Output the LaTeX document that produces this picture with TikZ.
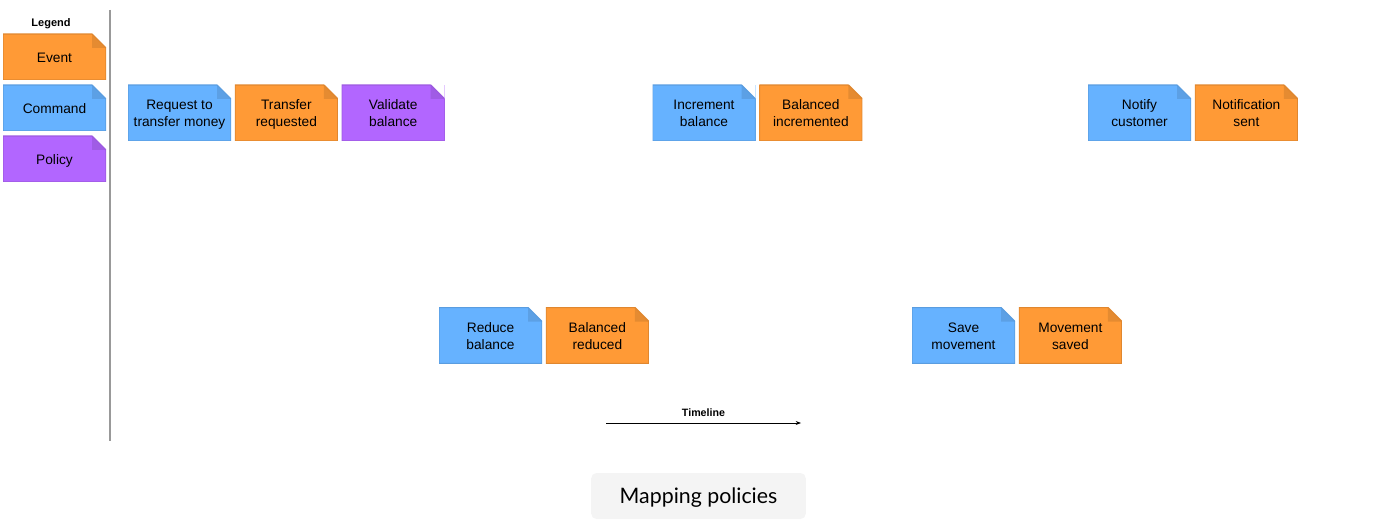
\documentclass[tikz,border=0pt]{standalone}
\usepackage{fontspec}
\setmainfont{Liberation Sans}
\newfontfamily\captionfont{Lato}
\usetikzlibrary{shapes,arrows.meta,positioning}
\definecolor{evt}{RGB}{255,154,54}
\definecolor{cmd}{RGB}{102,178,255}
\definecolor{pol}{RGB}{178,102,255}
\tikzset{
  Note/.style={fill=#1, draw=none, minimum width=77.25pt, minimum height=42pt,
    inner sep=1pt, align=center, font=\fontsize{10.3}{12.75}\selectfont,
    path picture={
      \path (path picture bounding box.north east) coordinate (ne)
            (path picture bounding box.south west) coordinate (sw)
            (ne) ++(-10.5pt,0) coordinate (f1)
            (ne) ++(0,-10.5pt) coordinate (f2);
      \fill[white] (f1) -- (ne) -- (f2) -- cycle;
      \fill[#1!90!black] (f1) -- (f2) -- (f1 |- f2) -- cycle;
      \draw[#1!88!black, line width=1pt] (f1) -| (sw) -| (f2) -- (f1);
    }}
}
\tikzstyle{Sticky}  = [execute at begin node={\rule{0pt}{23pt}},
                       execute at end node={\rule[-2.5pt]{0pt}{2.5pt}}]
\tikzstyle{Event}   = [Note=evt, Sticky]
\tikzstyle{Command} = [Note=cmd, Sticky]
\tikzstyle{Policy}  = [Note=pol, Sticky]
\tikzstyle{Legend}  = [minimum height=34.5pt,
                       execute at begin node={\rule{0pt}{11pt}},
                       execute at end node={\rule[-3.25pt]{0pt}{3.25pt}}]

\begin{document}
\begin{tikzpicture}[x=0.75pt, y=-0.75pt]
  \useasboundingbox (0,0) rectangle (1387,520);

  % legend
  \node[font=\bfseries\fontsize{8.25}{10}\selectfont] (legend) at (51,23.5) {Legend};
  \node[Note=evt, Legend] (lg event)   at (54.5,57)  {Event};
  \node[Note=cmd, Legend] (lg command) at (54.5,108) {Command};
  \node[Note=pol, Legend] (lg policy)  at (54.5,159) {Policy};
  \coordinate (sep top) at (110,10);
  \coordinate (sep bot) at (110,441);
  \draw[gray!80, line width=1pt] (sep top) -- (sep bot);

  % top row
  \node[Command] (request)   at (179.5,113)                {Request to\\transfer money};
  \node[Event]   (requested) [right=2.5pt of request]      {Transfer\\requested};
  \node[Policy]  (validate)  [right=2.5pt of requested]    {Validate\\balance};
  \node[Command] (increment) at (704,113)                  {Increment\\balance};
  \node[Event]   (incremented) [right=2.5pt of increment]  {Balanced\\incremented};
  \node[Command] (notify)    at (1139.5,113)               {Notify\\customer};
  \node[Event]   (notified)  [right=2.5pt of notify]       {Notification\\sent};

  % bottom row
  \node[Command] (reduce)    at (490.5,335.5)              {Reduce\\balance};
  \node[Event]   (reduced)   [right=2.5pt of reduce]       {Balanced\\reduced};
  \node[Command] (save)      at (963.5,335.5)              {Save\\movement};
  \node[Event]   (saved)     [right=2.5pt of save]         {Movement\\saved};

  % timeline
  \coordinate (tl start) at (606,423);
  \coordinate (tl end)   at (801,423);
  \draw[-{Stealth[length=4pt,width=3pt]}, line width=0.6pt] (tl start) -- (tl end)
    node[midway, above=1.5pt, font=\bfseries\fontsize{8}{10}\selectfont] (timeline) {Timeline};

  % caption
  \node[fill=gray!9, rounded corners=4pt, minimum width=161pt, minimum height=34.5pt,
        text height=10.5pt, text depth=0pt,
        font=\captionfont\fontsize{16}{19}\selectfont] (caption) at (698.5,496) {Mapping policies};
\end{tikzpicture}
\end{document}
